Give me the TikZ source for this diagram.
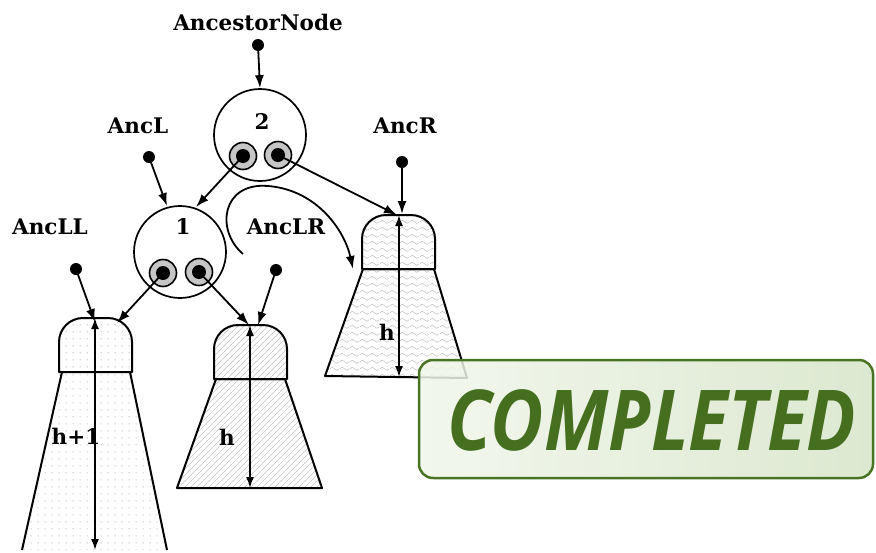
\documentclass[tikz,border=0pt]{standalone}
\usepackage{fontspec}
\newfontfamily\lblfont{DejaVu Serif}
\newfontfamily\badgefont{Open Sans}
\usetikzlibrary{arrows.meta,patterns.meta}
\definecolor{badgegreen}{RGB}{74,116,36}
\definecolor{badgetext}{RGB}{69,110,30}
\definecolor{badgeL}{RGB}{240,246,234}
\definecolor{badgeR}{RGB}{214,228,200}
\tikzdeclarepattern{name=wavy,type=uncolored,bounding box={(0pt,-1pt) and (10pt,6pt)},tile size={(10pt,7pt)},
  code={\draw[line width=0.6pt] (0pt,1.5pt) .. controls (1.5pt,3.8pt) and (3.5pt,3.8pt) .. (5pt,1.5pt) .. controls (6.5pt,-0.8pt) and (8.5pt,-0.8pt) .. (10pt,1.5pt);}}
\tikzdeclarepattern{name=fdots,type=uncolored,bounding box={(0pt,0pt) and (7pt,7pt)},tile size={(7pt,7pt)},
  code={\fill (3.5pt,3.5pt) circle (0.75pt);}}
\tikzdeclarepattern{name=flines,type=uncolored,bounding box={(0pt,0pt) and (6pt,6pt)},tile size={(6pt,6pt)},
  code={\draw[line width=0.8pt] (-1pt,-1pt) -- (7pt,7pt);}}
\begin{document}
\begin{tikzpicture}[x=1pt,y=-1pt,
  lbl/.style={font=\lblfont\bfseries\fontsize{21.5}{24}\selectfont,inner sep=0pt},
  dotnode/.style={circle,fill=black,inner sep=0pt,minimum size=12pt},
  keynode/.style={circle,draw,line width=1.7pt,minimum size=92pt,inner sep=0pt},
  ptr/.style={circle,draw,line width=1.6pt,fill=gray!45,minimum size=27pt,inner sep=0pt},
  ptrdot/.style={circle,fill=black,minimum size=14pt,inner sep=0pt},
  arr/.style={line width=1.8pt,-{Latex[length=13pt,width=9pt]}},
  harr/.style={line width=1.7pt,{Latex[length=11pt,width=8pt]}-{Latex[length=11pt,width=8pt]}},
  treeline/.style={draw,line width=2pt,line join=round}]
\useasboundingbox (0,0) rectangle (876,552);

% ---------- trees ----------
% left tree (dots)
\path[pattern=fdots,pattern color=gray!60] (22,550) -- (59,372) -- (132,372) -- (167,550) -- cycle;
\path[pattern=fdots,pattern color=gray!60,rounded corners=24pt] (59,372) -- (59,318) -- (132,318) [sharp corners] -- (132,372) -- cycle;
\draw[treeline] (22,550) -- (62,372) (130,372) -- (167,550);
\draw[treeline,rounded corners=24pt] (59,372) -- (59,318) -- (132,318) [sharp corners] -- (132,372) -- cycle;
\coordinate (tLtop) at (95,318);
\coordinate (tLbot) at (95,550);
\draw[harr] (tLtop) -- (tLbot);
\node[lbl] (hL) at (76,436) {h+1};

% middle tree (lines)
\path[pattern=flines,pattern color=gray!45] (177,488) -- (214,379) -- (287,379) -- (322,488) -- cycle;
\path[pattern=flines,pattern color=gray!45,rounded corners=24pt] (214,379) -- (214,325) -- (287,325) [sharp corners] -- (287,379) -- cycle;
\draw[treeline] (177,488) -- (216,379) -- (285,379) -- (322,488) -- cycle;
\draw[treeline,rounded corners=24pt] (214,379) -- (214,325) -- (287,325) [sharp corners] -- (287,379) -- cycle;
\coordinate (tMtop) at (250,325);
\coordinate (tMbot) at (250,488);
\draw[harr] (tMtop) -- (tMbot);
\node[lbl] (hM) at (227,437) {h};

% right tree (wavy)
\path[pattern=wavy,pattern color=gray!50] (325,376) -- (363,269) -- (434,269) -- (467,378) -- cycle;
\path[pattern=wavy,pattern color=gray!50,rounded corners=24pt] (362,269) -- (362,215) -- (435,215) [sharp corners] -- (435,269) -- cycle;
\draw[treeline] (325,376) -- (363,269) -- (434,269) -- (467,378) -- cycle;
\draw[treeline,rounded corners=24pt] (362,269) -- (362,215) -- (435,215) [sharp corners] -- (435,269) -- cycle;
\coordinate (tRtop) at (399,215);
\coordinate (tRbot) at (399,377);
\draw[harr] (tRtop) -- (tRbot);
\node[lbl] (hR) at (387,332) {h};

% ---------- internal nodes ----------
\node[keynode] (n2) at (260,135) {};
\node[lbl] (n2k) at (262,122) {2};
\node[ptr] (p2l) at (243,156) {};
\node[ptrdot] (p2ld) at (243,156) {};
\node[ptr] (p2r) at (278,155) {};
\node[ptrdot] (p2rd) at (278,155) {};

\node[keynode] (n1) at (180,252) {};
\node[lbl] (n1k) at (183,227) {1};
\node[ptr] (p1l) at (163,273) {};
\node[ptrdot] (p1ld) at (163,273) {};
\node[ptr] (p1r) at (199,272) {};
\node[ptrdot] (p1rd) at (199,272) {};

% ---------- labels and ancestor dots ----------
\node[lbl] (lAnc) at (258,22) {AncestorNode};
\node[dotnode] (dAnc) at (258,45) {};
\node[lbl] (lL) at (138,126) {AncL};
\node[dotnode] (dL) at (149,157) {};
\node[lbl] (lR) at (405,126) {AncR};
\node[dotnode] (dR) at (402,162) {};
\node[lbl] (lLL) at (50,227) {AncLL};
\node[dotnode] (dLL) at (76,269) {};
\node[lbl] (lLR) at (286,227) {AncLR};
\node[dotnode] (dLR) at (276,270) {};

% ---------- connectors ----------
\coordinate (n1a) at (167,206);
\coordinate (n1b) at (196,207);
\coordinate (tLa) at (95,322);
\coordinate (tLb) at (117,323);
\coordinate (tMa) at (249,325);
\coordinate (tMb) at (258,325);
\coordinate (tRa) at (397,215);
\coordinate (tRb) at (402,214);
\draw[arr] (dAnc.center) -- (n2.north);
\draw[arr] (dL.center) -- (n1a);
\draw[arr] (p2ld.center) -- (n1b);
\draw[arr] (p2rd.center) -- (tRa);
\draw[arr] (dR.center) -- (tRb);
\draw[arr] (dLL.center) -- (tLa);
\draw[arr] (p1ld.center) -- (tLb);
\draw[arr] (p1rd.center) -- (tMa);
\draw[arr] (dLR.center) -- (tMb);

% curved rotation arrow
\coordinate (cs) at (243,254);
\coordinate (ce) at (353,269);
\draw[arr] (cs) .. controls (215,230) and (222,182) .. (268,186) .. controls (318,190) and (345,232) .. (ce);

% ---------- badge ----------
\draw[badgegreen,line width=2.5pt,rounded corners=14pt,left color=badgeL,right color=badgeR,fill opacity=0.85]
  (419,360) rectangle (873,478);
\node[text=badgetext,font=\badgefont\bfseries\itshape\fontsize{84}{84}\selectfont,inner sep=0pt,xscale=0.87] (badgetxt) at (652,420) {COMPLETED};
\end{tikzpicture}
\end{document}
